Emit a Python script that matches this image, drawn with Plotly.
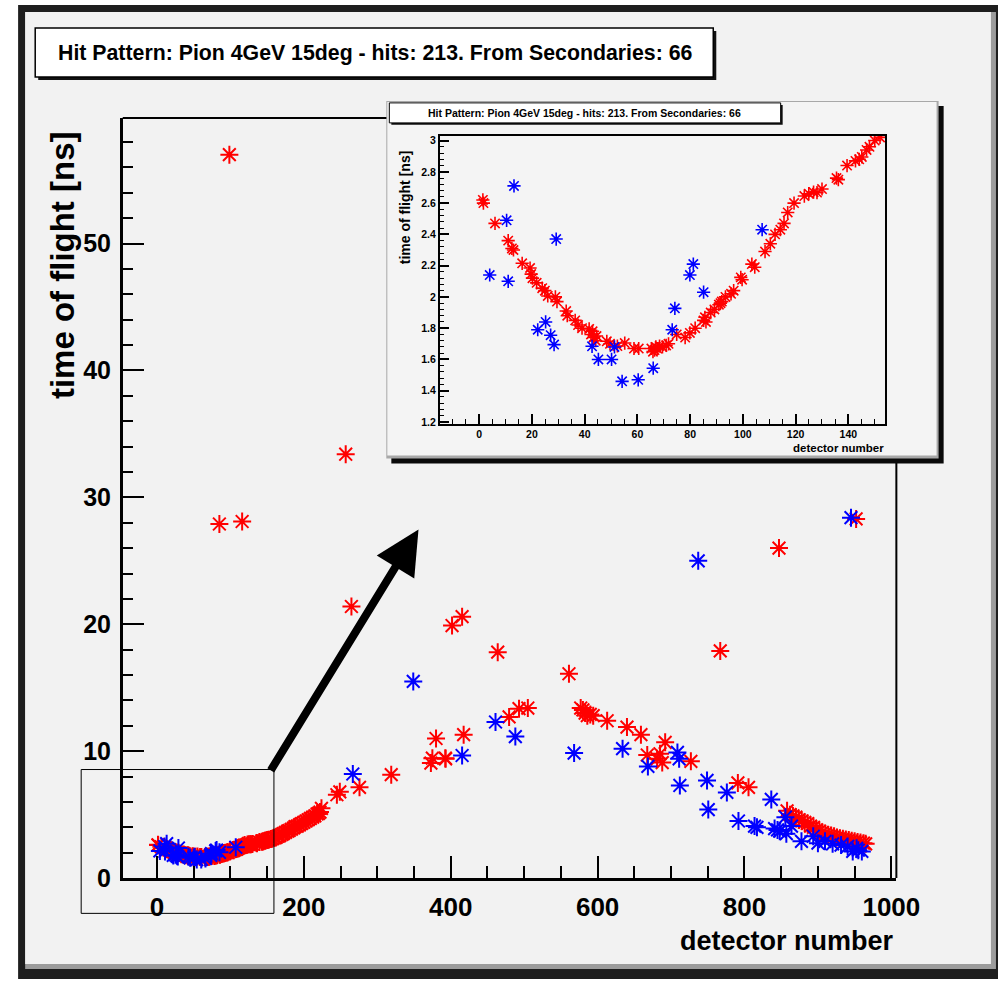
import plotly.graph_objects as go

# ---------------- data ----------------
# primary hits (red)
red_x = [1.4, 1.6, 6, 11, 12.4, 13, 16.3, 19.3, 19.7, 20.2, 21.8, 23.9, 24.9, 26, 28.9, 29.5,
         33, 33.4, 36.4, 37.5, 39, 41.7, 42.4, 43, 43.4, 44.2, 44.5, 48.4, 49.6, 52.4, 55.2, 58.7,
         60.5, 65.3, 65.9, 66.5, 67, 67.5, 68.4, 69.5, 70.9, 71.8, 74.9, 78.1, 79.9, 81.9, 85.1,
         85.6, 86, 87.8, 89.2, 90.9, 91.5, 92, 93.4, 95.5, 96.5, 99.2, 99.7, 103.4, 104.5, 108.4,
         110.4, 112.2, 114.2, 115.6, 117, 119.4, 123.3, 125, 126.8, 128.1, 130, 135.5, 136.2,
         139.5, 142.7, 144.1, 145.1, 146.9,
         148, 150, 152, 155, 157, 160, 162, 165, 167, 170, 172, 175, 178, 180, 183, 186, 188,
         191, 194, 197, 200, 203, 206, 209, 212, 215, 218, 220, 222, 224,
         85, 98.6, 116, 245, 249, 257, 264.8, 275.8, 319, 373, 375, 380, 392.7, 393, 401.8, 415.5,
         417.6, 464, 479.5, 493, 505, 561, 577, 580, 583, 586, 590, 594, 613, 640, 659, 667.6,
         681, 685, 688, 692, 727, 767, 791, 805.5, 847, 952,
         858, 862, 866, 870, 874, 878, 882, 886, 890, 894, 898, 902, 906, 910, 914, 918, 922,
         926, 930, 934, 938, 942, 946, 950, 954, 958, 962, 965]
red_y = [2.62, 2.60, 2.47, 2.36, 2.31, 2.30, 2.215, 2.185, 2.146, 2.12, 2.09, 2.056, 2.04, 2.006, 2.0, 1.97,
         1.91, 1.88, 1.85, 1.82, 1.80, 1.795, 1.76, 1.78, 1.74, 1.72, 1.75, 1.716, 1.70, 1.686, 1.705, 1.67,
         1.67, 1.67, 1.65, 1.66, 1.68, 1.67, 1.686, 1.68, 1.69, 1.70, 1.76, 1.74, 1.77, 1.80, 1.85,
         1.87, 1.84, 1.90, 1.92, 1.95, 1.96, 1.97, 2.0, 2.02, 2.04, 2.125, 2.11, 2.21, 2.19, 2.29,
         2.34, 2.40, 2.43, 2.47, 2.54, 2.60, 2.645, 2.66, 2.67, 2.667, 2.69, 2.76, 2.75,
         2.84, 2.87, 2.88, 2.895, 2.94,
         2.96, 3.0, 3.02, 3.08, 3.1, 3.18, 3.2, 3.3, 3.35, 3.45, 3.5, 3.6, 3.7, 3.75, 3.85, 3.95, 4.05,
         4.1, 4.2, 4.3, 4.4, 4.5, 4.6, 4.7, 4.8, 4.9, 5.05, 5.1, 5.2, 5.5,
         27.9, 57.0, 28.1, 6.57, 6.8, 33.4, 21.4, 7.15, 8.15, 9.06, 9.45, 11.0, 9.45, 9.4, 19.9, 20.6,
         11.3, 17.8, 12.7, 13.35, 13.4, 16.1, 13.4, 13.25, 13.0, 12.8, 12.9, 12.8, 12.4, 11.9, 11.3, 9.7,
         9.4, 9.8, 9.1, 10.7, 9.2, 17.9, 7.5, 7.15, 26.0, 28.3,
         5.3, 5.0, 4.9, 4.8, 4.6, 4.5, 4.4, 4.3, 4.1, 4.0, 3.8, 3.7, 3.6, 3.5, 3.4, 3.35, 3.3,
         3.2, 3.15, 3.1, 3.05, 3.0, 2.95, 2.9, 2.85, 2.8, 2.75, 2.7]

# hits from secondaries (blue)
blue_x = [4, 10.4, 11, 13.2, 22.2, 25.2, 27.1, 28.4, 29.2, 42.8, 45.2, 50.2, 51.3, 54.2, 60.3,
          66, 73.2, 74.2, 79.9, 81.2, 85.1, 107.3,
          266.7, 349, 415.5, 461, 488, 568, 634, 668.5, 708.7, 711, 712, 737, 749, 750.7, 776,
          791.8, 813.7, 817, 836.5, 841, 845, 848, 855.7, 857, 864, 877.6, 893.6, 900, 909.6,
          920, 931.5, 940.5, 945, 947.4, 952.7, 955, 959.8]
blue_y = [2.14, 2.49, 2.10, 2.71, 1.79, 1.84, 1.755, 1.695, 2.37, 1.684, 1.60, 1.60, 1.68, 1.46, 1.47,
          1.544, 1.79, 1.927, 2.14, 2.21, 2.03, 2.43,
          8.2, 15.5, 9.66, 12.3, 11.15, 9.85, 10.2, 8.8, 9.9, 9.4, 7.3, 25.0, 7.7, 5.4, 6.75,
          4.5, 4.1, 4.0, 6.2, 3.9, 3.8, 3.7, 4.8, 3.5, 4.1, 2.9, 3.3, 2.75, 2.9,
          2.7, 2.6, 2.5, 28.4, 2.1, 2.35, 2.2, 2.1]

title_text = "Hit Pattern: Pion 4GeV 15deg - hits: 213. From Secondaries: 66"
main_xticks = [0, 200, 400, 600, 800, 1000]
main_yticks = [0, 10, 20, 30, 40, 50]
inset_xticks = [0, 20, 40, 60, 80, 100, 120, 140]
inset_yticks = [1.2, 1.4, 1.6, 1.8, 2.0, 2.2, 2.4, 2.6, 2.8, 3.0]
inset_yticktext = ["1.2", "1.4", "1.6", "1.8", "2", "2.2", "2.4", "2.6", "2.8", "3"]

# ---------------- layout helpers ----------------
REF_W, REF_H = 998, 981
W, H = 1028, 996            # page is compressed when photographed; positions kept as fractions
SX, SY = W / REF_W, H / REF_H
def px(x):
    return x / REF_W
def py(y):
    return 1 - y / REF_H

RED = "#ff0000"
BLUE = "#0000ff"
BG = "#f2f2f2"
BOLD = "Liberation Sans, Arial, sans-serif"

fig = go.Figure()

# main plot
fig.add_trace(go.Scatter(x=red_x, y=red_y, mode="markers", xaxis="x", yaxis="y",
                         marker=dict(symbol="asterisk-open", size=15, color=RED,
                                     line=dict(color=RED, width=2)), showlegend=False))
fig.add_trace(go.Scatter(x=blue_x, y=blue_y, mode="markers", xaxis="x", yaxis="y",
                         marker=dict(symbol="asterisk-open", size=15, color=BLUE,
                                     line=dict(color=BLUE, width=2)), showlegend=False))
# inset (zoom of first detectors)
fig.add_trace(go.Scatter(x=red_x, y=red_y, mode="markers", xaxis="x2", yaxis="y2",
                         marker=dict(symbol="asterisk-open", size=11, color=RED,
                                     line=dict(color=RED, width=1.6)), showlegend=False))
fig.add_trace(go.Scatter(x=blue_x, y=blue_y, mode="markers", xaxis="x2", yaxis="y2",
                         marker=dict(symbol="asterisk-open", size=11, color=BLUE,
                                     line=dict(color=BLUE, width=1.6)), showlegend=False))

shapes = [
    # outer dark frame with bevel
    dict(type="rect", xref="paper", yref="paper", x0=px(18), x1=px(997), y0=py(3), y1=py(978),
         fillcolor="#1e1e1e", line=dict(width=0), layer="below"),
    dict(type="rect", xref="paper", yref="paper", x0=px(25), x1=px(990), y0=py(10), y1=py(968),
         fillcolor="#9c9c9c", line=dict(width=0), layer="below"),
    dict(type="rect", xref="paper", yref="paper", x0=px(25), x1=px(985), y0=py(10), y1=py(963),
         fillcolor=BG, line=dict(width=0), layer="below"),
    # main title box (shadow + box)
    dict(type="rect", xref="paper", yref="paper", x0=px(38), x1=px(712), y0=py(29), y1=py(78),
         fillcolor="#111111", line=dict(width=0), layer="below"),
    dict(type="rect", xref="paper", yref="paper", x0=px(35), x1=px(709), y0=py(26), y1=py(75),
         fillcolor="white", line=dict(color="black", width=1.5), layer="below"),
    # main frame top and right segments (visible parts)
    dict(type="line", xref="paper", yref="paper", x0=px(122), x1=px(386), y0=py(116), y1=py(116),
         line=dict(color="black", width=2), layer="below"),
    dict(type="line", xref="paper", yref="paper", x0=px(891), x1=px(891), y0=py(460), y1=py(877),
         line=dict(color="black", width=2), layer="below"),
    # inset pad: shadow, gray rim, face
    dict(type="rect", xref="paper", yref="paper", x0=px(389), x1=px(938), y0=py(104), y1=py(462),
         fillcolor="#0a0a0a", line=dict(width=0), layer="below"),
    dict(type="rect", xref="paper", yref="paper", x0=px(384), x1=px(933), y0=py(99), y1=py(457),
         fillcolor="#a8a8a8", line=dict(width=0), layer="below"),
    dict(type="rect", xref="paper", yref="paper", x0=px(385), x1=px(931), y0=py(100), y1=py(454),
         fillcolor="#f4f4f4", line=dict(width=0), layer="below"),
    # inset title box
    dict(type="rect", xref="paper", yref="paper", x0=px(389), x1=px(778), y0=py(103), y1=py(123),
         fillcolor="#111111", line=dict(width=0), layer="below"),
    dict(type="rect", xref="paper", yref="paper", x0=px(387), x1=px(776), y0=py(101), y1=py(121),
         fillcolor="white", line=dict(color="black", width=1), layer="below"),
    # zoom box around first detectors
    dict(type="rect", xref="paper", yref="paper", x0=px(80.7), x1=px(272.3), y0=py(768.3), y1=py(912.3),
         line=dict(color="black", width=1), layer="above"),
]

annotations = [
    dict(text=title_text, xref="paper", yref="paper", x=px(373), y=py(51), showarrow=False,
         xanchor="center", yanchor="middle", font=dict(family=BOLD, size=21.3, color="black", weight="bold")),
    dict(text=title_text, xref="paper", yref="paper", x=px(581), y=py(111.5), showarrow=False,
         xanchor="center", yanchor="middle", font=dict(family=BOLD, size=10.5, color="black", weight="bold")),
    dict(text="time of flight [ns]", xref="paper", yref="paper", x=px(62), y=py(263), showarrow=False,
         textangle=-90, xanchor="center", yanchor="middle",
         font=dict(family=BOLD, size=33, color="black", weight="bold")),
    dict(text="detector number", xref="paper", yref="paper", x=px(891), y=py(940), showarrow=False,
         xanchor="right", yanchor="middle", font=dict(family=BOLD, size=27, color="black", weight="bold")),
    dict(text="time of flight [ns]", xref="paper", yref="paper", x=px(402), y=py(205), showarrow=False,
         textangle=-90, xanchor="center", yanchor="middle",
         font=dict(family=BOLD, size=14, color="black", weight="bold")),
    dict(text="detector number", xref="paper", yref="paper", x=px(881), y=py(446), showarrow=False,
         xanchor="right", yanchor="middle", font=dict(family=BOLD, size=11.5, color="black", weight="bold")),
    # arrow pointing from zoom box to inset
    dict(text="", xref="paper", yref="paper", x=px(416), y=py(528), ax=(271.7 - 416) * SX,
         ay=(766.7 - 528) * SY, axref="pixel", ayref="pixel", showarrow=True, arrowhead=2,
         arrowsize=1.1, arrowwidth=8, arrowcolor="black", standoff=0),
]

axis_common = dict(showline=True, linecolor="black", showgrid=False, zeroline=False,
                   ticks="inside", tickcolor="black")

fig.update_layout(
    width=W, height=H, margin=dict(l=0, r=0, t=0, b=0), autosize=False,
    paper_bgcolor="white", plot_bgcolor="rgba(0,0,0,0)",
    shapes=shapes, annotations=annotations,
    xaxis=dict(**axis_common, domain=[px(122), px(891)], range=[-46.6, 1006.8], anchor="y",
               linewidth=2.5, tickvals=main_xticks, ticklen=22, tickwidth=2,
               minor=dict(ticks="inside", ticklen=12, tickwidth=2, dtick=50, tick0=0, tickcolor="black"),
               tickfont=dict(family=BOLD, size=26, color="black", weight="bold"), ticklabelstandoff=4),
    yaxis=dict(**axis_common, domain=[py(877), py(116)], range=[0, 59.9], anchor="x",
               linewidth=2.5, tickvals=main_yticks, ticklen=22, tickwidth=2,
               minor=dict(ticks="inside", ticklen=11, tickwidth=2, dtick=2, tick0=0, tickcolor="black"),
               tickfont=dict(family=BOLD, size=25, color="black", weight="bold"), ticklabelstandoff=4),
    xaxis2=dict(**axis_common, domain=[px(437), px(880)], range=[-15, 154], anchor="y2", mirror=True,
                linewidth=1.5, tickvals=inset_xticks, ticklen=10, tickwidth=1.5,
                minor=dict(ticks="inside", ticklen=5, tickwidth=1.2, dtick=5, tick0=0, tickcolor="black"),
                tickfont=dict(family=BOLD, size=10.5, color="black", weight="bold")),
    yaxis2=dict(**axis_common, domain=[py(422), py(134)], range=[1.19, 3.03], anchor="x2", mirror=True,
                linewidth=1.5, tickvals=inset_yticks, ticktext=inset_yticktext, ticklen=10, tickwidth=1.5,
                minor=dict(ticks="inside", ticklen=5, tickwidth=1.2, dtick=0.04, tick0=0, tickcolor="black"),
                tickfont=dict(family=BOLD, size=10.5, color="black", weight="bold")),
)

fig.write_html("out.html", config={"responsive": False},
               post_script="document.body.style.margin='0';document.body.style.overflow='hidden';"
                           "document.documentElement.style.overflow='hidden';")
